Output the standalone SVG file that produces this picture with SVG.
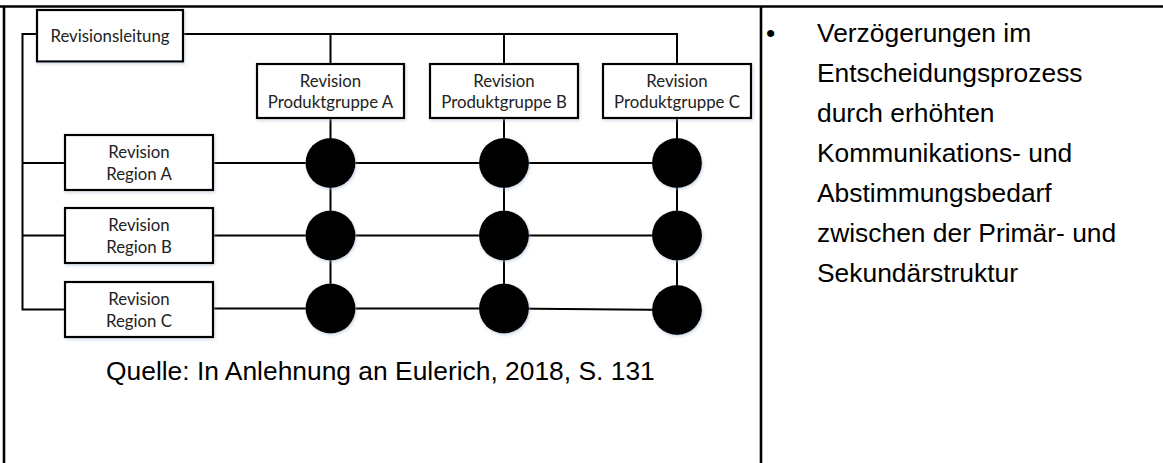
<svg xmlns="http://www.w3.org/2000/svg" width="1163" height="463" viewBox="0 0 1163 463">
<style>
.frame{stroke:#000;stroke-width:2.6;fill:none}
.box{fill:#fff;stroke:#000;stroke-width:2.2;filter:url(#sh)}
.wire{stroke:#000;stroke-width:2;fill:none}
.dot{fill:#000;filter:url(#sh)}
.nt{font-family:Lato,"Liberation Sans",sans-serif;font-size:16.8px;fill:#222;text-anchor:middle}
.big{font-family:"Liberation Sans",Arial,sans-serif;font-size:26.4px;fill:#000}
</style>
<defs>
<filter id="sh" x="-20%" y="-20%" width="140%" height="140%">
<feDropShadow dx="1" dy="1.5" stdDeviation="1.5" flood-color="#9bb0c8" flood-opacity="0.5"/>
</filter>
</defs>
<rect width="1163" height="463" fill="#fff"/>
<g id="frame">
<line class="frame" x1="0" y1="6.5" x2="1163" y2="6.5"/>
<line class="frame" x1="4" y1="6" x2="4" y2="463"/>
<line class="frame" x1="761" y1="6" x2="761" y2="463"/>
</g>
<g id="connectors">
<path class="wire" d="M37 34 H22.5 V309.5 H65"/>
<path class="wire" d="M22.5 163 H65 M22.5 235.5 H65"/>
<path class="wire" d="M183 34 H677 V64 M330.5 34 V64 M504 34 V64"/>
<path class="wire" d="M330.5 118 V308 M504 118 V308 M677 118 V310"/>
<path class="wire" d="M213 163 H677 M213 235.5 H677 M213 308.5 H504 L677 310"/>
</g>
<g id="revisionsleitung">
<rect class="box" x="37" y="10" width="146" height="51.5"/>
<text class="nt" x="110" y="41.5">Revisionsleitung</text>
</g>
<g id="pg-a">
<rect class="box" x="257" y="64" width="147" height="54"/>
<text class="nt" x="330.5" y="87">Revision</text>
<text class="nt" x="330.5" y="107.5">Produktgruppe A</text>
</g>
<g id="pg-b">
<rect class="box" x="430" y="64" width="148" height="54"/>
<text class="nt" x="504" y="87">Revision</text>
<text class="nt" x="504" y="107.5">Produktgruppe B</text>
</g>
<g id="pg-c">
<rect class="box" x="603" y="64" width="148" height="54"/>
<text class="nt" x="677" y="87">Revision</text>
<text class="nt" x="677" y="107.5">Produktgruppe C</text>
</g>
<g id="region-a">
<rect class="box" x="65" y="135" width="148" height="55"/>
<text class="nt" x="139" y="158">Revision</text>
<text class="nt" x="139" y="180">Region A</text>
</g>
<g id="region-b">
<rect class="box" x="65" y="208" width="148" height="55"/>
<text class="nt" x="139" y="231">Revision</text>
<text class="nt" x="139" y="253">Region B</text>
</g>
<g id="region-c">
<rect class="box" x="65" y="282" width="148" height="55"/>
<text class="nt" x="139" y="304.5">Revision</text>
<text class="nt" x="139" y="326.5">Region C</text>
</g>
<g id="matrix">
<circle class="dot" cx="330.5" cy="163" r="25"/>
<circle class="dot" cx="504" cy="163" r="25"/>
<circle class="dot" cx="677" cy="163" r="25"/>
<circle class="dot" cx="330.5" cy="235.5" r="25"/>
<circle class="dot" cx="504" cy="235.5" r="25"/>
<circle class="dot" cx="677" cy="235.5" r="25"/>
<circle class="dot" cx="330.5" cy="308.5" r="25"/>
<circle class="dot" cx="504" cy="308.5" r="25"/>
<circle class="dot" cx="677" cy="310" r="25"/>
</g>
<text class="big" x="106" y="380">Quelle: In Anlehnung an Eulerich, 2018, S. 131</text>
<g id="bullet-text">
<text class="big" x="766" y="42">•</text>
<text class="big" x="817" y="42">Verzögerungen im</text>
<text class="big" x="817" y="82">Entscheidungsprozess</text>
<text class="big" x="817" y="122">durch erhöhten</text>
<text class="big" x="817" y="162">Kommunikations- und</text>
<text class="big" x="817" y="202">Abstimmungsbedarf</text>
<text class="big" x="817" y="242">zwischen der Primär- und</text>
<text class="big" x="817" y="282">Sekundärstruktur</text>
</g>
</svg>
